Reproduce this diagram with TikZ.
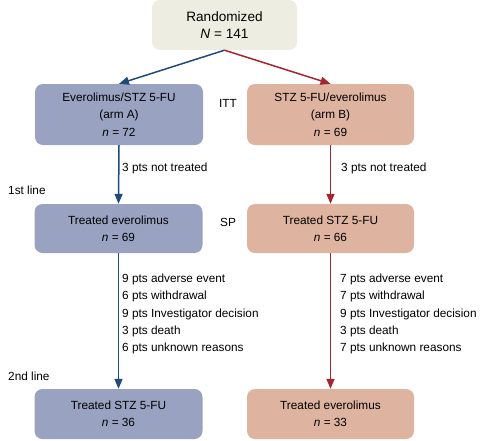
\documentclass[tikz,border=0pt]{standalone}
\usepackage{fontspec}
\setmainfont{Liberation Sans}
\usetikzlibrary{arrows.meta}
\definecolor{rndfill}{HTML}{EEEDE2}
\definecolor{afill}{HTML}{99A3C1}
\definecolor{bfill}{HTML}{DEB3A0}
\definecolor{aline}{HTML}{1F4A7A}
\definecolor{bline}{HTML}{A3252E}
\newcommand{\nn}        {\textit{n}}

\begin{document}
\begin{tikzpicture}[x=1pt,y=-1pt,
   every node/.style={font=\fontsize{11.8}{17.3}\selectfont},
   box/.style={rounded corners=8pt,align=center,inner sep=0pt},
   boxA/.style={box,fill=afill,minimum width=168pt},
   boxB/.style={box,fill=bfill,minimum width=167pt},
   arrA/.style={aline,line width=1.5pt,-{Triangle[length=10pt,width=8pt]}},
   arrB/.style={bline,line width=1.5pt,-{Triangle[length=10pt,width=8pt]}},
   reasons/.style={anchor=west,align=left,inner sep=0pt}]
   \useasboundingbox (0,0) rectangle (489,440);
   % boxes
   \node[box,fill=rndfill,minimum width=145pt,minimum height=50pt,
      font=\fontsize{13.6}{17.3}\selectfont] (rnd) at (224.5,25)
      {Randomized\\\textit{N} = 141};
   \node[boxA,minimum height=61pt] (armA) at (119,114.5)
      {Everolimus/STZ 5-FU\\(arm A)\\\nn{} = 72};
   \node[boxB,minimum height=61pt] (armB) at (330.5,114.5)
      {STZ 5-FU/everolimus\\(arm B)\\\nn{} = 69};
   \node[boxA,minimum height=49pt] (firstA) at (118.5,228.5)
      {Treated everolimus\\\nn{} = 69};
   \node[boxB,minimum height=49pt] (firstB) at (330.5,228.5)
      {Treated STZ 5-FU\\\nn{} = 66};
   \node[boxA,minimum height=50pt] (secondA) at (118.5,414)
      {Treated STZ 5-FU\\\nn{} = 36};
   \node[boxB,minimum height=50pt] (secondB) at (330.5,414)
      {Treated everolimus\\\nn{} = 33};
   % connectors
   \draw[arrA] (rnd.south) -- (armA.north);
   \draw[arrB] (rnd.south) -- (armB.north);
   \draw[arrA] (armA.south) -- (firstA.north);
   \draw[arrB] (armB.south) -- (firstB.north);
   \draw[arrA] (firstA.south) -- (secondA.north);
   \draw[arrB] (firstB.south) -- (secondB.north);
   % labels
   \node (itt) at (228,103) {ITT};
   \node (sp) at (228,222) {SP};
   \node[anchor=west,inner sep=0pt] (line1) at (8,190) {1st line};
   \node[anchor=west,inner sep=0pt] (line2) at (8,376) {2nd line};
   \node[reasons] (notA) at (122,168) {3 pts not treated};
   \node[reasons] (notB) at (341,168) {3 pts not treated};
   \node[reasons] (offA) at (122,314)
      {9 pts adverse event\\6 pts withdrawal\\9 pts Investigator decision\\3 pts death\\6 pts unknown reasons};
   \node[reasons] (offB) at (340,314)
      {7 pts adverse event\\7 pts withdrawal\\9 pts Investigator decision\\3 pts death\\7 pts unknown reasons};
\end{tikzpicture}
\end{document}
